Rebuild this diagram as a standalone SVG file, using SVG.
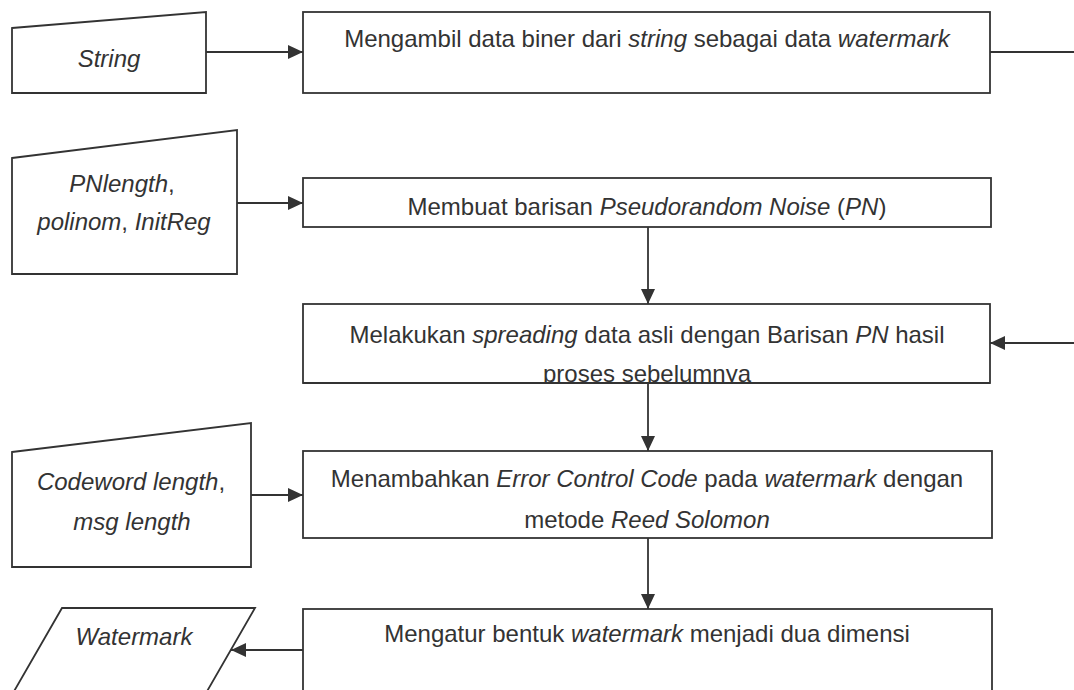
<svg xmlns="http://www.w3.org/2000/svg" width="1074" height="690" viewBox="0 0 1074 690">
<style>
.s{fill:#fff;stroke:#333;stroke-width:1.8}
.t{font-family:"Liberation Sans",Arial,sans-serif;font-size:24px;fill:#333;text-anchor:middle}
.i{font-style:italic}
.c{fill:none;stroke:#333;stroke-width:1.8}
</style>
<defs>
<marker id="ah" markerUnits="userSpaceOnUse" markerWidth="16" markerHeight="14" refX="15" refY="7" orient="auto">
<path d="M0,0 L15,7 L0,14 Z" fill="#333"/>
</marker>
<clipPath id="clip3"><rect x="303" y="304" width="687" height="80"/></clipPath>
</defs>
<rect width="1074" height="690" fill="#fff"/>
<g id="connectors">
<line class="c" x1="206" y1="52" x2="303" y2="52" marker-end="url(#ah)"/>
<line class="c" x1="990" y1="52" x2="1074" y2="52"/>
<line class="c" x1="237" y1="203" x2="303" y2="203" marker-end="url(#ah)"/>
<line class="c" x1="648" y1="227" x2="648" y2="304" marker-end="url(#ah)"/>
<line class="c" x1="1074" y1="343" x2="990" y2="343" marker-end="url(#ah)"/>
<line class="c" x1="648" y1="383" x2="648" y2="451" marker-end="url(#ah)"/>
<line class="c" x1="251" y1="495" x2="303" y2="495" marker-end="url(#ah)"/>
<line class="c" x1="648" y1="538" x2="648" y2="609" marker-end="url(#ah)"/>
<line class="c" x1="303" y1="650" x2="231" y2="650" marker-end="url(#ah)"/>
</g>
<g id="in-string">
<polygon class="s" points="12,28 206,12 206,93 12,93"/>
<text class="t i" x="109" y="67">String</text>
</g>
<g id="box1">
<rect class="s" x="303" y="12" width="687" height="81"/>
<text class="t" x="647" y="47">Mengambil data biner dari <tspan class="i">string</tspan> sebagai data <tspan class="i">watermark</tspan></text>
</g>
<g id="in-pn">
<polygon class="s" points="12,158 237,130 237,274 12,274"/>
<text class="t i" x="122" y="192">PNlength<tspan font-style="normal">,</tspan></text>
<text class="t" x="124" y="230"><tspan class="i">polinom</tspan>, <tspan class="i">InitReg</tspan></text>
</g>
<g id="box2">
<rect class="s" x="303" y="178" width="688" height="49"/>
<text class="t" x="647" y="215">Membuat barisan <tspan class="i">Pseudorandom Noise</tspan> (<tspan class="i">PN</tspan>)</text>
</g>
<g id="box3">
<rect class="s" x="303" y="304" width="687" height="79"/>
<g clip-path="url(#clip3)">
<text class="t" x="647" y="343">Melakukan <tspan class="i">spreading</tspan> data asli dengan Barisan <tspan class="i">PN</tspan> hasil</text>
<text class="t" x="647" y="382">proses sebelumnya</text>
</g>
<line class="c" x1="303" y1="383" x2="990" y2="383"/>
</g>
<g id="in-codeword">
<polygon class="s" points="12,452 251,423 251,567 12,567"/>
<text class="t" x="131" y="490"><tspan class="i">Codeword length</tspan>,</text>
<text class="t i" x="132" y="530">msg length</text>
</g>
<g id="box4">
<rect class="s" x="303" y="451" width="689" height="87"/>
<text class="t" x="647" y="487">Menambahkan <tspan class="i">Error Control Code</tspan> pada <tspan class="i">watermark</tspan> dengan</text>
<text class="t" x="647" y="528">metode <tspan class="i">Reed Solomon</tspan></text>
</g>
<g id="out-watermark">
<polygon class="s" points="62,608 255,608 202,700 9,700"/>
<text class="t i" x="134" y="645">Watermark</text>
</g>
<g id="box5">
<rect class="s" x="303" y="609" width="689" height="100"/>
<text class="t" x="647" y="642">Mengatur bentuk <tspan class="i">watermark</tspan> menjadi dua dimensi</text>
</g>
</svg>
